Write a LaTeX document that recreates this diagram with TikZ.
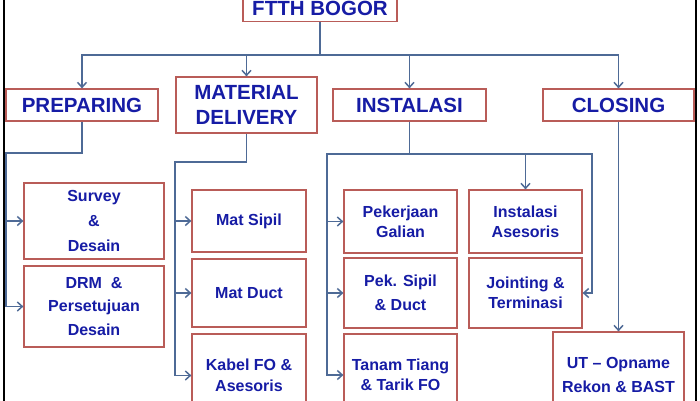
\documentclass[tikz,border=0pt]{standalone}
\usepackage{fontspec}
\setmainfont{Liberation Sans}
\usetikzlibrary{arrows.meta}
\definecolor{txtblue}{RGB}{22,28,165}
\definecolor{boxred}{RGB}{185,92,88}
\definecolor{lineblue}{RGB}{78,106,150}
\tikzset{
  box/.style={draw=boxred, line width=1.2pt, fill=white, inner sep=0pt, align=center,
    text=txtblue, font=\fontsize{16}{21}\selectfont\bfseries},
  headbox/.style={box, font=\fontsize{20.5}{25}\selectfont\bfseries},
  conn/.style={draw=lineblue, line width=1.5pt},
  arr/.style={conn, -{Straight Barb[length=5pt,width=9pt]}},
}
\begin{document}
\begin{tikzpicture}[x=1pt,y=-1pt]
\useasboundingbox (0,0) rectangle (700,400);
\clip (0,0) rectangle (700,400);
\fill[white] (0,0) rectangle (700,400);
% frame
\draw[black, line width=2pt] (4,-5) -- (4,405);
\draw[black, line width=2pt] (695.5,-5) -- (695.5,405);
% top level
\node[headbox, minimum width=154pt, minimum height=25pt] (root) at (320,8.6) {FTTH BOGOR};
\node[headbox, minimum width=152pt, minimum height=32pt] (prep) at (82,105) {PREPARING};
\node[headbox, minimum width=141pt, minimum height=56pt] (mat) at (246.5,105) {MATERIAL\\DELIVERY};
\node[headbox, minimum width=153pt, minimum height=32pt] (inst) at (409.5,105) {INSTALASI};
\node[headbox, minimum width=151pt, minimum height=32pt] (clos) at (618.5,105) {CLOSING};
% preparing
\node[box, minimum width=140pt, minimum height=76pt, font=\fontsize{16}{25.3}\selectfont\bfseries] (survey) at (94,221) {Survey\\\&\\Desain};
\node[box, minimum width=140pt, minimum height=81pt, font=\fontsize{16}{23.5}\selectfont\bfseries] (drm) at (94,306.5) {DRM \ \&\\Persetujuan\\Desain};
% material
\node[box, minimum width=114pt, minimum height=62pt] (matsipil) at (249,221) {Mat Sipil};
\node[box, minimum width=114pt, minimum height=68pt] (matduct) at (249,293) {Mat Duct};
\node[box, minimum width=114pt, minimum height=83pt] (kabel) at (249,375.5) {Kabel FO \&\\Asesoris};
% instalasi
\node[box, minimum width=113pt, minimum height=63pt, font=\fontsize{16}{20}\selectfont\bfseries] (pekerjaan) at (400.5,221.5) {Pekerjaan\\Galian};
\node[box, minimum width=113pt, minimum height=70pt, font=\fontsize{16}{24}\selectfont\bfseries] (peksipil) at (400.5,293) {Pek. Sipil\\\& Duct};
\node[box, minimum width=113pt, minimum height=82pt, font=\fontsize{16}{20}\selectfont\bfseries] (tanam) at (400.5,375) {Tanam Tiang\\\& Tarik FO};
\node[box, minimum width=113pt, minimum height=63pt, font=\fontsize{16}{20}\selectfont\bfseries] (instases) at (525.5,221.5) {Instalasi\\Asesoris};
\node[box, minimum width=113pt, minimum height=70pt, font=\fontsize{16}{20}\selectfont\bfseries] (jointing) at (525.5,293) {Jointing \&\\Terminasi};
% closing
\node[box, minimum width=131pt, minimum height=86pt, font=\fontsize{16}{24}\selectfont\bfseries] (ut) at (618.5,375) {UT -- Opname\\Rekon \& BAST};
% connectors top
\coordinate (bus) at (320,55);
\draw[arr] (root.south) -- (bus) -| (prep.north);
\draw[arr] (bus) -| (mat.north);
\draw[arr] (bus) -| (inst.north);
\draw[arr] (bus) -| (clos.north);
% preparing
\coordinate (pl) at (6,153);
\draw[arr] (prep.south) |- (pl) |- (survey.west);
\draw[arr] (pl) |- (drm.west);
% material
\coordinate (ml) at (175,162);
\draw[arr] (mat.south) |- (ml) |- (matsipil.west);
\draw[arr] (ml) |- (matduct.west);
\draw[arr] (ml) |- (kabel.west);
% instalasi
\coordinate (il) at (327,154);
\coordinate (ir) at (592,154);
\draw[arr] (inst.south) |- (il) |- (pekerjaan.west);
\draw[arr] (il) |- (peksipil.west);
\draw[arr] (il) |- (tanam.west);
\draw[arr] (inst.south) |- (ir) |- (jointing.east);
\draw[arr] (instases.north |- ir) -- (instases.north);
% closing
\draw[arr] (clos.south) -- (ut.north);
\end{tikzpicture}
\end{document}
